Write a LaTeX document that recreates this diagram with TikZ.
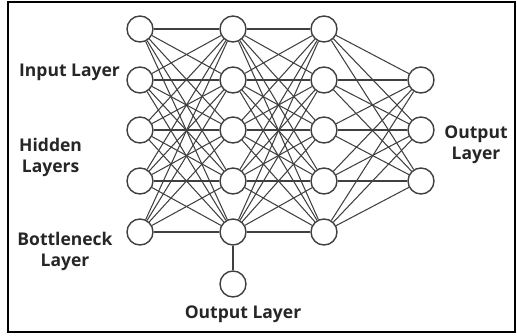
\documentclass[tikz,border=0pt]{standalone}
\usepackage{fontspec}
\setmainfont{Open Sans}
\begin{document}
\begin{tikzpicture}[x=1pt,y=-1pt,
  neuron/.style={circle,draw=black!75,line width=1.4pt,fill=white,minimum size=26pt,inner sep=0pt},
  link/.style={draw=black!75,line width=1.05pt},
  lbl/.style={font=\bfseries\fontsize{17.5}{21}\selectfont,text=black!85,align=center,inner sep=0pt}]
  \useasboundingbox (0,0) rectangle (517,335);
  \draw[line width=2pt] (8,2) rectangle (515,332);

  % neuron positions
  \foreach \r/\y in {1/29,2/80,3/130,4/181,5/232} {
    \node[neuron] (a\r) at (140,\y) {};
    \node[neuron] (b\r) at (233,\y) {};
    \node[neuron] (c\r) at (324,\y) {};
  }
  \foreach \r/\y in {1/80,2/130,3/181}
    \node[neuron] (d\r) at (421,\y) {};
  \node[neuron] (e) at (233,284) {};

  % connections
  \foreach \i in {1,...,5} \foreach \j in {1,...,5} {
    \path[link] (a\i) -- (b\j);
    \path[link] (b\i) -- (c\j);
  }
  \foreach \i in {1,...,5} \foreach \j in {1,2,3}
    \path[link] (c\i) -- (d\j);
  \path[link] (b5) -- (e);

  % labels
  \node[lbl,anchor=west] (inl) at (19,72) {Input Layer};
  \node[lbl,anchor=west] (hid) at (19,157) {Hidden\\Layers};
  \node[lbl] (bot) at (65,251) {Bottleneck\\Layer};
  \node[lbl] (outr) at (476,145) {Output\\Layer};
  \node[lbl] (outb) at (243,314) {Output Layer};
\end{tikzpicture}
\end{document}
